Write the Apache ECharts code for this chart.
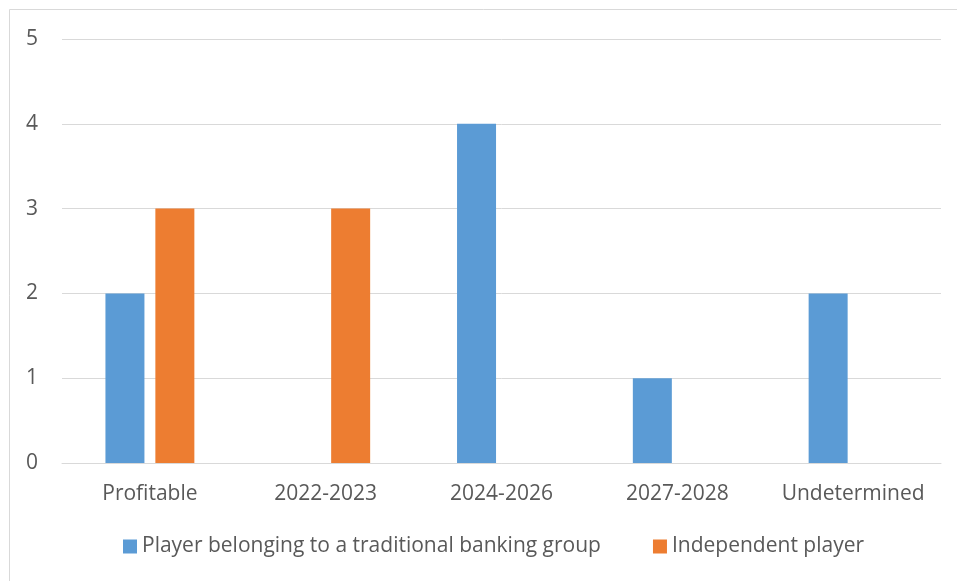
<!DOCTYPE html>
<html><head><meta charset="utf-8">
<script src="https://cdn.jsdelivr.net/npm/echarts@6/dist/echarts.min.js"></script>
<style>html,body{margin:0;padding:0;background:#fff}#c{width:957px;height:581px}</style>
</head><body><div id="c"></div>
<script>
const categories = ['Profitable', '2022-2023', '2024-2026', '2027-2028', 'Undetermined'];
const seriesNames = ['Player belonging to a traditional banking group', 'Independent player'];
const bankingValues = [2, null, 4, 1, 2];
const independentValues = [3, 3, null, null, null];
const yTicks = [0, 1, 2, 3, 4, 5];

const chart = echarts.init(document.getElementById('c'), null, {renderer: 'canvas'});
const font = '"Open Sans", "Liberation Sans", sans-serif';
chart.setOption({
  animation: false,
  backgroundColor: '#fff',
  graphic: [{type: 'rect', shape: {x: 9.5, y: 9.5, width: 1000, height: 1000}, style: {fill: 'none', stroke: '#D9D9D9', lineWidth: 1}}],
  grid: {left: 62, right: 16, top: 39, bottom: 118, containLabel: false},
  legend: {
    data: seriesNames, top: 536, left: 123, itemWidth: 14, itemHeight: 14, itemGap: 52,
    icon: 'rect', padding: 0,
    textStyle: {color: '#595959', fontSize: 21, fontFamily: font}
  },
  xAxis: {
    type: 'category', data: categories,
    axisLine: {show: true, lineStyle: {color: '#D9D9D9', width: 1}},
    axisTick: {show: false},
    axisLabel: {color: '#595959', fontSize: 21, fontFamily: font, margin: 21, interval: 0, hideOverlap: false}
  },
  yAxis: {
    type: 'value', min: yTicks[0], max: yTicks[yTicks.length - 1], interval: 1,
    axisLine: {show: false}, axisTick: {show: false},
    splitLine: {lineStyle: {color: '#D9D9D9', width: 1}},
    axisLabel: {color: '#595959', fontSize: 21, fontFamily: font, margin: 24}
  },
  series: [
    {name: seriesNames[0], type: 'bar', data: bankingValues, barWidth: 39, barGap: '28%', itemStyle: {color: '#5B9BD5'}},
    {name: seriesNames[1], type: 'bar', data: independentValues, barWidth: 39, itemStyle: {color: '#ED7D31'}}
  ]
});
</script></body></html>
